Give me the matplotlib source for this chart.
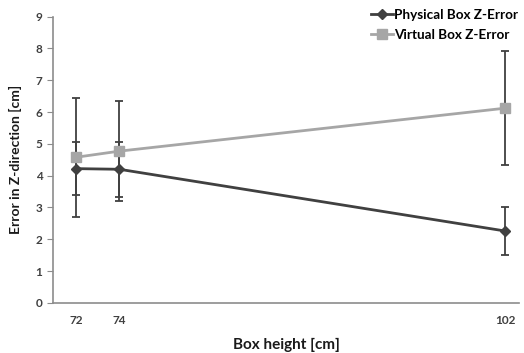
import matplotlib.pyplot as plt

# Werte
box_hoehe_pos = [72, 75, 102]          # Lage auf der Achse
box_hoehe_labels = ['72', '74', '102']  # Beschriftung
physisch = [4.22, 4.20, 2.26]
physisch_err = [0.84, 0.87, 0.76]
virtuell = [4.58, 4.77, 6.12]
virtuell_err = [1.87, 1.58, 1.79]

plt.rcParams['font.family'] = ['Lato', 'DejaVu Sans']

fig = plt.figure(figsize=(5.24, 3.53), dpi=100)
ax = fig.add_axes([0.101, 0.142, 0.89, 0.811])

dunkel = '#404040'
hell = '#a6a6a6'

# Fehlerbalken (ohne Legende)
ax.errorbar(box_hoehe_pos, virtuell, yerr=virtuell_err, fmt='none',
            ecolor=dunkel, elinewidth=1.3, capsize=3, capthick=1.3, zorder=1)
ax.errorbar(box_hoehe_pos, physisch, yerr=physisch_err, fmt='none',
            ecolor=dunkel, elinewidth=1.3, capsize=3, capthick=1.3, zorder=1)

# Linien mit Markern
ax.plot(box_hoehe_pos, physisch, color=dunkel, marker='D', markersize=5,
        linewidth=2, label='Physical Box Z-Error', zorder=3)
ax.plot(box_hoehe_pos, virtuell, color=hell, marker='s', markersize=7,
        linewidth=2, label='Virtual Box Z-Error', zorder=2)

ax.set_xlim(70.35, 103.0)
ax.set_ylim(0, 9)
ax.set_xticks(box_hoehe_pos)
ax.set_xticklabels(box_hoehe_labels)
ax.set_yticks(range(0, 10))

for s in ['top', 'right']:
    ax.spines[s].set_visible(False)
for s in ['left', 'bottom']:
    ax.spines[s].set_color('#8c8c8c')
    ax.spines[s].set_linewidth(1.2)

ax.tick_params(axis='x', length=0, pad=9, labelsize=8.5, labelcolor='#404040')
ax.tick_params(axis='y', length=4, color='#8c8c8c', labelsize=8.5, labelcolor='#404040')
for t in ax.get_xticklabels() + ax.get_yticklabels():
    t.set_fontweight('bold')

ax.set_xlabel('Box height [cm]', fontsize=11, fontweight='bold', color='#1a1a1a', labelpad=8)
ax.set_ylabel('Error in Z-direction [cm]', fontsize=10, fontweight='bold', color='#1a1a1a', labelpad=10)

fig.legend(loc='upper right', bbox_to_anchor=(1.012, 1.01),
           frameon=False, handlelength=1.6, handletextpad=0.1,
           labelspacing=0.6, prop={'weight': 'bold', 'size': 9.7})

plt.savefig('out.png', dpi=100)
